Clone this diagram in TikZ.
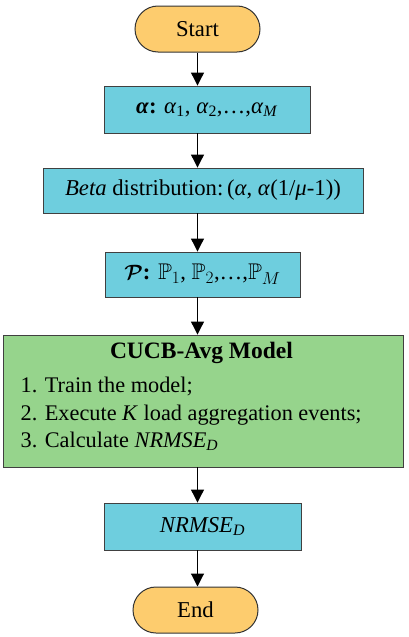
\documentclass[tikz,border=0pt]{standalone}
\usepackage{amssymb,bm}
\usepackage{fontspec}
\setmainfont{Liberation Serif}
\usetikzlibrary{arrows.meta}
\definecolor{cyanfill}{RGB}{110,206,222}
\definecolor{termfill}{RGB}{253,204,110}
\definecolor{greenfill}{RGB}{150,212,140}
\begin{document}
\begin{tikzpicture}[x=1pt,y=-1pt,
  font=\fontsize{22.7}{28}\selectfont,
  box/.style={draw=black!75, line width=0.9pt, fill=cyanfill, inner sep=0pt},
  term/.style={draw=black!80, line width=1pt, fill=termfill, rounded corners=23pt,
    minimum width=125pt, minimum height=46pt, inner sep=0pt},
  arr/.style={line width=1.1pt, -{Triangle[width=13pt,length=13pt]}},
  txt/.style={inner sep=0pt, anchor=base west, font=\fontsize{22.3}{28}\selectfont}]
\useasboundingbox (0,0) rectangle (408,637);
\node[term] (start) at (197.5,29) {Start};
\node[box, minimum width=206pt, minimum height=47pt] (alpha) at (207,109.5)
  {\textbf{\textit{α}:} \textit{α}\textsubscript{1}, \textit{α}\textsubscript{2},…,\textit{α}\textsubscript{\textit{M}}};
\node[box, minimum width=320pt, minimum height=45pt] (beta) at (203,190.5)
  {\textit{Beta} distribution:\,(\textit{α}, \textit{α}(1/\textit{μ}-1))};
\node[box, minimum width=195pt, minimum height=45pt] (pbox) at (202.5,274.5)
  {$\bm{\mathcal{P}}$\textbf{:} $\mathbb{P}_1$, $\mathbb{P}_2$,…,$\mathbb{P}_{M}$};
\node[box, fill=greenfill, minimum width=400pt, minimum height=132pt] (cucb) at (203,401) {};
\node[inner sep=0pt, anchor=base, font=\fontsize{23.5}{28}\selectfont\bfseries] (cucbtitle) at (201.5,358) {CUCB-Avg Model};
\node[txt] (l1) at (20.5,392) {1. Train the model;};
\node[txt] (l2) at (20.5,420) {2. Execute \textit{K} load aggregation events;};
\node[txt] (l3) at (20.5,447) {3. Calculate \textit{NRMSE}\textsubscript{\textit{D}}};
\node[box, minimum width=197pt, minimum height=47pt] (nrmse) at (202.5,526.5)
  {\textit{NRMSE}\textsubscript{\textit{D}}};
\node[term] (end) at (195.5,610) {End};
\draw[arr] (start.south) -- (start.south |- alpha.north);
\draw[arr] (start.south |- alpha.south) -- (start.south |- beta.north);
\draw[arr] (start.south |- beta.south) -- (start.south |- pbox.north);
\draw[arr] (start.south |- pbox.south) -- (start.south |- cucb.north);
\draw[arr] (start.south |- cucb.south) -- (start.south |- nrmse.north);
\draw[arr] (start.south |- nrmse.south) -- (end.north -| start.south);
\end{tikzpicture}
\end{document}
